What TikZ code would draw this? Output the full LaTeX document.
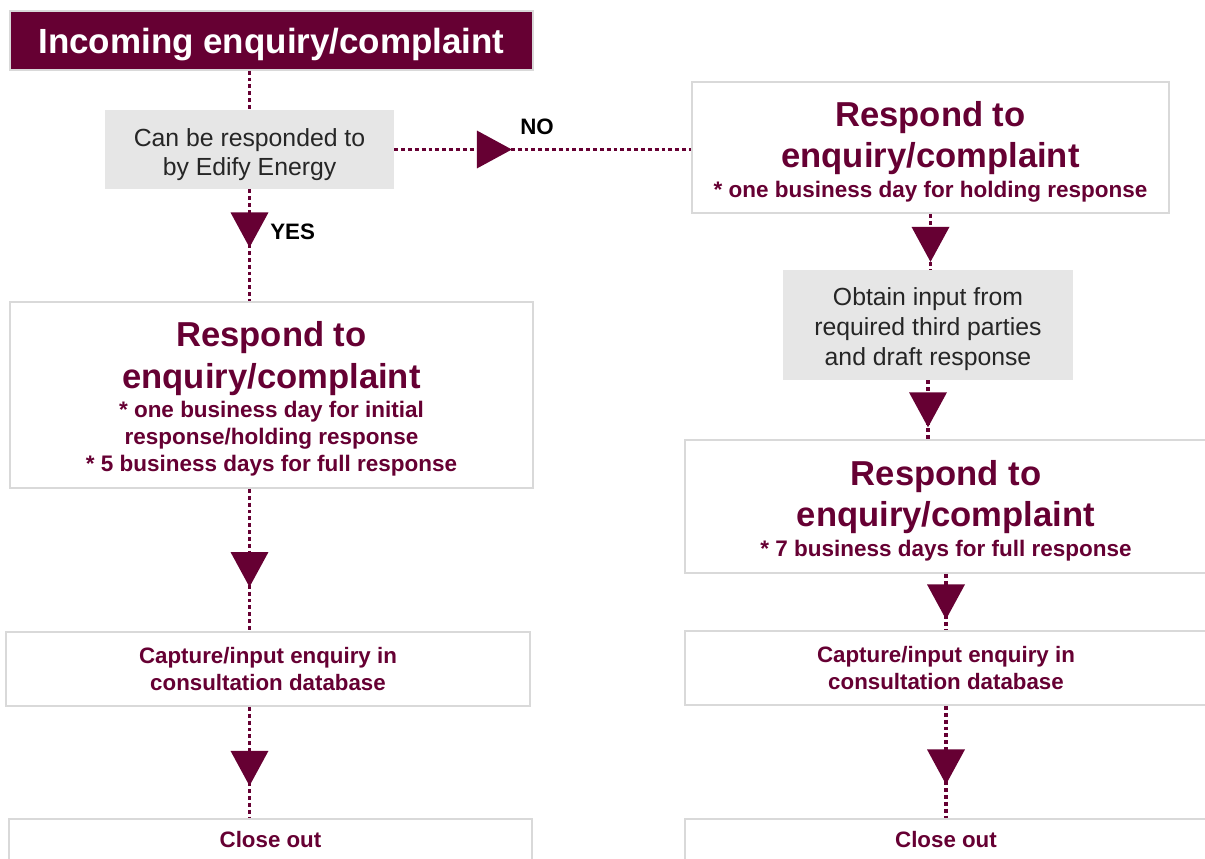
\documentclass[tikz,border=0pt]{standalone}
\usepackage{fontspec}
\setmainfont{Liberation Sans}
\usetikzlibrary{decorations.markings}

\definecolor{maroon}{RGB}{102,0,51}
\definecolor{boxline}{RGB}{217,217,217}
\definecolor{boxfill}{RGB}{230,230,230}
\definecolor{txtgray}{RGB}{38,38,38}

\newcommand{\headfont}{\fontsize{19.7}{23.6}\selectfont}

\tikzset{
  every node/.style={inner sep=0pt, align=flush center},
  titlebox/.style={fill=maroon, draw=boxline, line width=0.8pt, text=white,
    font=\bfseries\fontsize{19.9}{24}\selectfont, text depth=-2pt},
  askbox/.style={fill=boxfill, text=txtgray, font=\fontsize{14.1}{17}\selectfont},
  stepbox/.style={draw=boxline, line width=1.1pt, fill=white, text=maroon,
    font=\bfseries\fontsize{12.7}{15.9}\selectfont},
  flow/.style={maroon, line width=2pt, dash pattern=on 2.2pt off 1.7pt},
  tri/.style={postaction={decorate, decoration={markings,
      mark=at position #1 with {\fill[maroon] (0,0) -- (-0.7cm,0.38cm) -- (-0.7cm,-0.38cm) -- cycle;}}}},
  answer/.style={text=black, font=\bfseries\fontsize{12.7}{15}\selectfont}
}

\begin{document}
\begin{tikzpicture}[x=0.02cm, y=-0.02cm]

    % Page frame
    \useasboundingbox (0,0) rectangle (1205,859);
    \clip (0,0) rectangle (1205,859);

    % Left column
    \node[titlebox, minimum width=10.46cm, minimum height=1.18cm] (incoming) at (271.5,40.5) {Incoming enquiry/complaint};
    \node[askbox, text width=5.6cm, text height=16pt, minimum width=5.78cm, minimum height=1.58cm] (ask) at (249.5,149.5) {Can be responded to\\by Edify Energy};
    \node[stepbox, text width=10cm, text height=18.9pt, minimum width=10.46cm, minimum height=3.72cm] (respleft) at (271.5,395) {%
        {\headfont Respond to\\enquiry/complaint\par}
        {\fontsize{12.8}{15.3}\selectfont\vspace{1.5pt}* one business day for initial\\response/holding response\\{}* 5 business days for full response\par}};
    \node[stepbox, text width=10cm, minimum width=10.48cm, minimum height=1.48cm] (captureleft) at (268,669) {Capture/input enquiry in\\consultation database};
    \node[stepbox, text width=10cm, minimum width=10.46cm, minimum height=0.84cm] (closeleft) at (270.5,840) {Close out};

    % Right column
    \node[stepbox, text width=9.2cm, text height=18.9pt, minimum width=9.54cm, minimum height=2.62cm] (respright) at (930.5,147.5) {%
        {\headfont Respond to\\enquiry/complaint\par}
        {\fontsize{12.8}{15.3}\selectfont\vspace{1.7pt}* one business day for holding response\par}};
    \node[askbox, text width=5.6cm, text height=14.8pt, minimum width=5.8cm, minimum height=2.2cm] (obtain) at (928,325) {Obtain input from\\required third parties\\and draft response};
    \node[stepbox, text width=10cm, text height=18.9pt, minimum width=10.44cm, minimum height=2.66cm] (respfull) at (946,506.5) {%
        {\headfont Respond to\\enquiry/complaint\par}
        {\fontsize{12.8}{15.3}\selectfont\vspace{1.7pt}* 7 business days for full response\par}};
    \node[stepbox, text width=10cm, minimum width=10.44cm, minimum height=1.48cm] (captureright) at (946,668) {Capture/input enquiry in\\consultation database};
    \node[stepbox, text width=10cm, minimum width=10.44cm, minimum height=0.84cm] (closeright) at (946,840) {Close out};

    % Connectors
    \draw[flow] (incoming.south -| ask.north) -- (ask.north);
    \draw[flow, tri=0.52] (ask.south) -- (ask.south |- respleft.north);
    \draw[flow, tri=0.396] (ask.east) -- (ask.east -| respright.west);
    \draw[flow, tri=0.69] (respleft.south -| ask.south) -- (captureleft.north -| ask.south);
    \draw[flow, tri=0.71] (captureleft.south -| ask.south) -- (closeleft.north -| ask.south);
    \draw[flow, tri=0.86] (respright.south) -- (respright.south |- obtain.north);
    \draw[flow, tri=0.8] (obtain.south) -- (obtain.south |- respfull.north);
    \draw[flow, tri=0.81] (respfull.south) -- (respfull.south |- captureright.north);
    \draw[flow, tri=0.7] (captureright.south) -- (captureright.south |- closeright.north);

    % Answers
    \node[answer, anchor=west] (yes) at (270,232) {YES};
    \node[answer, anchor=west] (no) at (520,127) {NO};

\end{tikzpicture}
\end{document}
